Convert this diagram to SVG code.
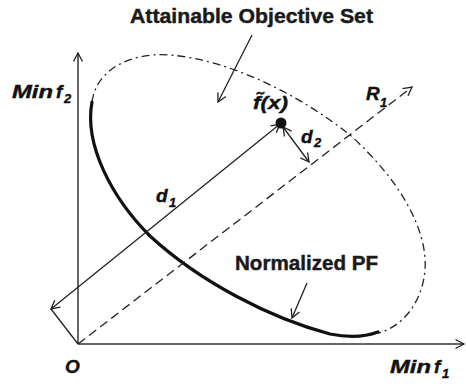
<svg xmlns="http://www.w3.org/2000/svg" width="466" height="384" viewBox="0 0 466 384">
<style>
.ln{fill:none;stroke:#222;stroke-width:1.3}
.ax{fill:none;stroke:#333;stroke-width:1.5}
.lbl{font-family:"Liberation Sans",Arial,sans-serif;font-weight:bold;fill:#1a1a1a;stroke:#1a1a1a;stroke-width:0.45}
.it{font-family:"Liberation Sans",Arial,sans-serif;font-weight:bold;font-style:italic;fill:#111;stroke:#111;stroke-width:0.4}
</style>
<defs>
<marker id="open" viewBox="0 0 12 12" refX="10.5" refY="6" markerWidth="12" markerHeight="12" markerUnits="userSpaceOnUse" orient="auto-start-reverse">
<path d="M2,1.5 L10.5,6 L2,10.5" fill="none" stroke="#222" stroke-width="1.3"/>
</marker>
</defs>
<rect width="466" height="384" fill="#fff"/>
<g id="axes">
<line class="ax" x1="78" y1="344" x2="78" y2="53" marker-end="url(#open)"/>
<line class="ax" x1="78" y1="344" x2="464" y2="344" marker-end="url(#open)"/>
</g>
<g id="attainable-set">
<path class="ln" stroke-dasharray="8 4 2 4" stroke-width="1.5" d="M92,102 C96,70 130,52 170,55 C230,60 300,95 350,135 C400,180 428,230 425,270 C422,305 400,328 378,333"/>
</g>
<g id="pareto-front">
<path fill="none" stroke="#111" stroke-width="3.2" stroke-linecap="round" d="M92,102 C84,145 112,198 150,236 C200,282 270,318 330,334 C350,338 365,337 378,332"/>
</g>
<g id="connectors">
<line class="ln" x1="78" y1="344" x2="412" y2="87" stroke-dasharray="9 5" marker-end="url(#open)"/>
<line class="ln" x1="51" y1="309" x2="280" y2="124" marker-start="url(#open)" marker-end="url(#open)"/>
<line class="ln" x1="51" y1="309" x2="78" y2="344"/>
<line class="ln" x1="283" y1="127" x2="309" y2="162" marker-start="url(#open)" marker-end="url(#open)"/>
<line class="ln" stroke-width="1.6" x1="252" y1="35" x2="218" y2="102" marker-end="url(#open)"/>
<line class="ln" stroke-width="1.6" x1="307" y1="283" x2="292" y2="318" marker-end="url(#open)"/>
</g>
<g id="point">
<circle cx="281" cy="123" r="5.5" fill="#111"/>
<text class="it" x="253" y="109" font-size="19" textLength="35" lengthAdjust="spacingAndGlyphs">f̃(x)</text>
</g>
<g id="labels">
<text class="lbl" x="130" y="23" font-size="21" textLength="243" lengthAdjust="spacingAndGlyphs">Attainable Objective Set</text>
<text class="lbl" x="235" y="270" font-size="21" textLength="143" lengthAdjust="spacingAndGlyphs">Normalized PF</text>
<text class="it" x="12" y="98" font-size="18" textLength="41" lengthAdjust="spacingAndGlyphs">Min</text>
<text class="it" x="56" y="98" font-size="19">f</text>
<text class="it" x="64" y="103" font-size="13">2</text>
<text class="it" x="390" y="373" font-size="18" textLength="41" lengthAdjust="spacingAndGlyphs">Min</text>
<text class="it" x="434" y="373" font-size="19">f</text>
<text class="it" x="442" y="378" font-size="13">1</text>
<text class="it" x="65" y="373" font-size="19">O</text>
<text class="it" x="156" y="202" font-size="19">d</text>
<text class="it" x="169" y="207" font-size="13">1</text>
<text class="it" x="301" y="143" font-size="19">d</text>
<text class="it" x="314" y="147" font-size="13">2</text>
<text class="it" x="366" y="100" font-size="19">R</text>
<text class="it" x="380" y="107" font-size="13">1</text>
</g>
</svg>
